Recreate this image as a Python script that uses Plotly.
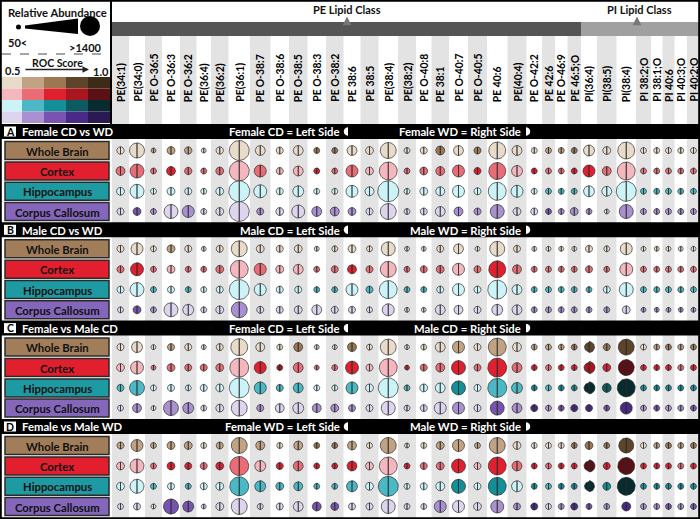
import numpy as np
import plotly.graph_objects as go

# ---------------- DATA ----------------
LIPIDS = ["PE(34:1)", "PE(34:0)", "PE O-36:5", "PE O-36:3", "PE O-36:2", "PE(36:4)", "PE(36:2)",
          "PE(36:1)", "PE O-38:7", "PE O-38:6", "PE O-38:5", "PE O-38:3", "PE O-38:2", "PE 38:6",
          "PE 38:5", "PE(38:4)", "PE(38:2)", "PE O-40:8", "PE 38:1", "PE O-40:7", "PE O-40:5",
          "PE 40:6", "PE(40:4)", "PE O-42:2", "PE 42:6", "PE O-46:9", "PE 46:5;O", "PI(36:4)",
          "PI(38:5)", "PI(38:4)", "PI 38:2;O", "PI 38:1;O", "PI 40:6", "PI 40:3;O", "PI 40:2;O"]
LIPID_CLASS = ["PE"] * 27 + ["PI"] * 8
REGIONS = ["Whole Brain", "Cortex", "Hippocampus", "Corpus Callosum"]
PANEL_LETTERS = ["A", "B", "C", "D"]
PANEL_TITLES = ["Female CD vs WD", "Male CD vs WD", "Female vs Male CD", "Female vs Male WD"]
LEFT_GROUPS = ["Female CD", "Male CD", "Female CD", "Female WD"]
RIGHT_GROUPS = ["Female WD", "Male WD", "Male CD", "Male WD"]

# relative abundance (one value per lipid)
A_WB = [77, 520, 50, 90, 77, 50, 77, 1100, 165, 70, 165, 55, 55, 165, 90, 615, 55, 70, 125, 165,
        70, 720, 165, 55, 55, 55, 55, 220, 90, 720, 55, 55, 55, 55, 55]
A_CX = [125, 430, 55, 125, 77, 55, 90, 1100, 280, 70, 165, 55, 55, 280, 90, 840, 55, 90, 125, 280,
        70, 720, 220, 55, 55, 55, 55, 280, 125, 840, 55, 55, 55, 55, 55]
A_HC = [90, 430, 55, 90, 70, 55, 90, 1250, 350, 70, 220, 55, 55, 280, 125, 1250, 55, 90, 125, 280,
        70, 840, 280, 55, 55, 55, 55, 220, 165, 1100, 55, 55, 55, 55, 55]
A_CC = [70, 90, 55, 430, 280, 55, 90, 1100, 70, 90, 350, 165, 125, 90, 70, 615, 55, 70, 165, 125,
        70, 430, 90, 70, 55, 55, 90, 55, 50, 430, 55, 55, 55, 55, 55]
B_WB = [70, 280, 55, 90, 70, 50, 70, 615, 90, 70, 90, 50, 55, 90, 55, 430, 50, 50, 70, 165,
        50, 520, 70, 50, 50, 50, 50, 70, 55, 280, 50, 50, 50, 50, 50]
B_CX = [70, 350, 55, 90, 55, 55, 90, 840, 280, 90, 165, 55, 70, 125, 70, 615, 55, 70, 90, 280,
        70, 720, 125, 55, 55, 55, 55, 70, 55, 350, 55, 55, 55, 55, 55]
B_HC = [70, 430, 55, 70, 55, 55, 70, 1100, 280, 70, 70, 55, 55, 280, 70, 840, 55, 55, 70, 280,
        70, 965, 165, 55, 55, 55, 55, 55, 70, 430, 55, 55, 55, 55, 55]
B_CC = [55, 90, 55, 430, 220, 55, 90, 615, 70, 70, 90, 165, 70, 70, 55, 280, 50, 50, 165, 125,
        70, 220, 165, 55, 55, 55, 55, 55, 55, 90, 50, 50, 50, 50, 50]
C_WB = [70, 220, 50, 70, 70, 50, 70, 720, 125, 55, 125, 50, 50, 125, 55, 615, 50, 55, 165, 280,
        70, 840, 125, 55, 55, 55, 55, 125, 70, 615, 55, 55, 55, 55, 55]
C_CX = [90, 350, 50, 90, 70, 70, 90, 965, 280, 55, 165, 50, 55, 350, 70, 840, 50, 70, 125, 430,
        70, 965, 165, 55, 55, 55, 55, 165, 90, 615, 55, 55, 55, 55, 55]
C_HC = [70, 520, 55, 70, 55, 70, 90, 1100, 280, 70, 165, 55, 55, 280, 90, 1100, 55, 90, 165, 430,
        70, 965, 220, 55, 55, 55, 55, 165, 125, 840, 55, 55, 55, 55, 55]
C_CC = [55, 125, 50, 520, 220, 55, 90, 615, 70, 125, 220, 125, 90, 70, 70, 430, 55, 70, 280, 280,
        70, 430, 165, 70, 55, 55, 70, 70, 55, 280, 55, 55, 55, 55, 55]
D_WB = [70, 280, 55, 90, 90, 55, 70, 615, 125, 55, 125, 55, 55, 125, 55, 615, 50, 55, 90, 280,
        55, 615, 90, 55, 55, 55, 55, 90, 55, 520, 55, 55, 55, 55, 55]
D_CX = [90, 430, 55, 90, 70, 70, 90, 965, 220, 70, 165, 55, 55, 165, 90, 840, 55, 70, 90, 430,
        70, 840, 165, 55, 55, 55, 55, 165, 70, 720, 55, 55, 55, 55, 55]
D_HC = [90, 430, 55, 70, 55, 70, 90, 965, 220, 90, 125, 55, 55, 220, 90, 1100, 55, 70, 125, 430,
        70, 840, 220, 55, 55, 55, 55, 125, 90, 840, 55, 55, 55, 55, 55]
D_CC = [55, 70, 50, 520, 220, 50, 90, 615, 55, 70, 165, 125, 90, 70, 70, 430, 55, 55, 280, 280,
        90, 350, 70, 70, 55, 55, 70, 55, 55, 125, 55, 55, 55, 55, 55]

# ROC score bin (0: 0.5 ... 4: 1.0)
A_WB_ROC = [0, 0, 1, 1, 1, 0, 0, 0, 0, 0, 0, 2, 2, 0, 0, 0, 0, 0, 2, 0, 2, 0, 0, 0, 1, 1, 2, 0, 0, 0, 0, 0, 0, 0, 0]
A_CX_ROC = [1, 1, 1, 2, 1, 1, 1, 0, 1, 0, 0, 2, 1, 1, 0, 0, 1, 1, 1, 1, 2, 1, 0, 2, 1, 1, 2, 2, 1, 0, 1, 1, 1, 1, 1]
A_HC_ROC = [0, 0, 0, 0, 0, 0, 0, 0, 0, 0, 0, 0, 0, 0, 0, 0, 0, 0, 0, 0, 0, 0, 0, 0, 1, 1, 1, 0, 0, 0, 1, 1, 1, 1, 1]
A_CC_ROC = [0, 2, 1, 0, 1, 0, 0, 0, 1, 0, 0, 1, 1, 1, 0, 0, 0, 0, 0, 1, 1, 1, 0, 0, 2, 1, 1, 1, 0, 1, 1, 1, 1, 1, 1]
B_WB_ROC = [0, 0, 0, 1, 0, 0, 0, 0, 0, 0, 0, 0, 0, 0, 0, 0, 0, 0, 0, 0, 0, 0, 0, 0, 0, 0, 0, 0, 0, 0, 0, 0, 0, 0, 0]
B_CX_ROC = [1, 2, 1, 0, 1, 1, 1, 0, 1, 0, 0, 1, 1, 2, 1, 0, 1, 1, 1, 0, 1, 2, 1, 1, 1, 1, 1, 1, 1, 0, 1, 1, 1, 1, 1]
B_HC_ROC = [0, 0, 1, 0, 1, 0, 0, 0, 0, 0, 0, 1, 1, 0, 1, 0, 1, 1, 0, 0, 0, 0, 0, 1, 1, 1, 1, 1, 0, 0, 1, 1, 1, 1, 1]
B_CC_ROC = [0, 2, 1, 0, 0, 0, 0, 1, 0, 0, 0, 0, 0, 0, 0, 0, 0, 0, 0, 0, 0, 0, 0, 1, 1, 1, 1, 1, 1, 0, 1, 1, 1, 1, 1]
C_WB_ROC = [0, 0, 0, 1, 0, 0, 0, 0, 0, 0, 2, 0, 0, 2, 0, 0, 0, 0, 0, 1, 0, 1, 0, 1, 1, 1, 2, 3, 2, 3, 0, 1, 2, 1, 2]
C_CX_ROC = [0, 0, 1, 1, 1, 1, 1, 0, 2, 3, 1, 1, 1, 2, 0, 0, 2, 1, 1, 2, 1, 2, 1, 2, 1, 2, 2, 3, 2, 4, 2, 2, 2, 1, 2]
C_HC_ROC = [1, 1, 0, 0, 0, 0, 0, 0, 1, 1, 1, 0, 0, 1, 0, 0, 1, 0, 0, 2, 0, 1, 1, 2, 1, 2, 2, 4, 3, 4, 2, 2, 2, 2, 2]
C_CC_ROC = [0, 1, 0, 1, 1, 0, 0, 0, 1, 0, 0, 1, 1, 1, 0, 0, 0, 0, 0, 1, 0, 2, 1, 3, 1, 2, 3, 3, 2, 3, 1, 2, 1, 1, 2]
D_WB_ROC = [1, 1, 1, 1, 1, 0, 1, 1, 1, 0, 1, 2, 2, 1, 0, 1, 0, 0, 1, 1, 1, 1, 0, 0, 0, 0, 2, 2, 2, 3, 0, 1, 2, 1, 2]
D_CX_ROC = [0, 0, 1, 2, 2, 1, 2, 1, 0, 2, 1, 2, 2, 2, 0, 0, 2, 1, 1, 2, 0, 2, 1, 2, 1, 2, 2, 4, 2, 4, 2, 2, 2, 1, 2]
D_HC_ROC = [0, 0, 1, 0, 1, 0, 0, 1, 1, 1, 1, 1, 1, 1, 0, 1, 0, 0, 0, 2, 0, 2, 0, 2, 1, 2, 2, 4, 2, 4, 2, 2, 2, 2, 2]
D_CC_ROC = [0, 0, 0, 2, 2, 0, 0, 0, 0, 0, 0, 2, 2, 0, 0, 0, 0, 0, 1, 0, 0, 1, 1, 3, 0, 1, 3, 2, 1, 3, 1, 1, 2, 1, 2]

# right-half abundance where it differs from the left half (panel, region, lipid index, value)
RIGHT_HALF_ABUNDANCE = [("C", 0, 27, 220), ("C", 1, 27, 280), ("C", 2, 27, 280),
                        ("D", 1, 27, 280), ("D", 2, 27, 220)]

SIZES = [[A_WB, A_CX, A_HC, A_CC], [B_WB, B_CX, B_HC, B_CC],
         [C_WB, C_CX, C_HC, C_CC], [D_WB, D_CX, D_HC, D_CC]]
ROCS = [[A_WB_ROC, A_CX_ROC, A_HC_ROC, A_CC_ROC], [B_WB_ROC, B_CX_ROC, B_HC_ROC, B_CC_ROC],
        [C_WB_ROC, C_CX_ROC, C_HC_ROC, C_CC_ROC], [D_WB_ROC, D_CX_ROC, D_HC_ROC, D_CC_ROC]]

# ---------------- STYLE / LAYOUT ----------------
PALETTE = {
    "Whole Brain": ["#e8dbc9", "#c1a283", "#9d7752", "#5e4429", "#3d2b19"],
    "Cortex": ["#f5b7be", "#ea6c77", "#e0202e", "#a9161f", "#5b1016"],
    "Hippocampus": ["#cbf3f8", "#4ab9c5", "#138f99", "#0b5b61", "#072b2e"],
    "Corpus Callosum": ["#ddd5ee", "#a990d0", "#7953b1", "#492b87", "#2b1953"],
}
BOX_FILL = {"Whole Brain": "#a17e59", "Cortex": "#e21f2e", "Hippocampus": "#1e9aa2", "Corpus Callosum": "#8466ba"}
COL_EDGES = [112, 129, 145, 162, 180, 196.5, 211, 228.5, 250, 270.5, 289, 307.5, 326, 343.5, 360.5,
             378.5, 398, 416, 431.5, 449, 468, 487, 507.5, 526.5, 542, 555, 567.5, 581, 597, 616.5,
             636, 651, 662.5, 674.5, 687, 700]
PANEL_TOP = [124, 222.3, 320.6, 419]
HEAD_H = 15
ROW_OFF = [26.5, 47, 67.3, 87.5]
W, H = 700, 519
FONT = "Lato"
STRIPE = "#e3e3e3"
OUTLINE = "#2b2b2b"


def radius(a):
    return 2.5 + 8.5 * np.sqrt(max(a - 50, 0) / 1350.0)


def half_poly(cx, cy, r, side, n=22):
    if side == "L":
        t = np.linspace(np.pi / 2, 3 * np.pi / 2, n)
    else:
        t = np.linspace(-np.pi / 2, np.pi / 2, n)
    xs = list(cx + r * np.cos(t)) + [cx + r * np.cos(t[0])]
    ys = list(cy - r * np.sin(t)) + [cy - r * np.sin(t[0])]
    return xs, ys


fig = go.Figure()
shapes = []
annotations = []

centers = [(COL_EDGES[j] + COL_EDGES[j + 1]) / 2 for j in range(len(LIPIDS))]
right_over = {(PANEL_LETTERS.index(p), i, j): v for p, i, j, v in RIGHT_HALF_ABUNDANCE}

# background stripes
for j in range(0, len(LIPIDS), 2):
    shapes.append(dict(type="rect", x0=COL_EDGES[j], x1=COL_EDGES[j + 1], y0=36, y1=H,
                       fillcolor=STRIPE, line=dict(width=0), layer="below"))

# header class bars
pe_end = COL_EDGES[LIPID_CLASS.index("PI")]
shapes.append(dict(type="rect", x0=112, x1=pe_end, y0=22, y1=36, fillcolor="#555555", line=dict(width=0), layer="below"))
shapes.append(dict(type="rect", x0=pe_end, x1=W, y0=22, y1=36, fillcolor="#a0a0a0", line=dict(width=0), layer="below"))
annotations.append(dict(x=347, y=9, text="<b>PE Lipid Class</b>", showarrow=False, font=dict(size=11, color="#111", family=FONT)))
annotations.append(dict(x=639, y=9, text="<b>PI Lipid Class</b>", showarrow=False, font=dict(size=11, color="#111", family=FONT)))
for ax_ in (347, 637):
    annotations.append(dict(x=ax_, y=16.5, ax=ax_, ay=23, axref="x", ayref="y", text="", showarrow=True,
                            arrowhead=2, arrowsize=0.8, arrowwidth=2.2, arrowcolor="#777777"))

# lipid labels
for j, name in enumerate(LIPIDS):
    annotations.append(dict(x=centers[j], y=104, text="<b>%s</b>" % name, textangle=-90, showarrow=False,
                            xanchor="center", yanchor="bottom", font=dict(size=10.4, color="#000", family=FONT)))

# legend box
annotations.append(dict(x=57, y=12, text="<b>Relative Abundance</b>", showarrow=False, font=dict(size=11.2, color="#111", family=FONT)))
shapes.append(dict(type="circle", x0=16, x1=21, y0=24.5, y1=29.5, fillcolor="black", line=dict(width=0)))
shapes.append(dict(type="path", path="M 25,25.5 L 78,18.5 L 78,34 L 25,28.5 Z", fillcolor="black", line=dict(width=0)))
shapes.append(dict(type="circle", x0=80, x1=100, y0=16, y1=36, fillcolor="black", line=dict(width=0)))
annotations.append(dict(x=6, y=42, text="<b>50<</b>", xanchor="left", showarrow=False, font=dict(size=11, color="#111", family=FONT)))
annotations.append(dict(x=104, y=47, text="<b>>1400</b>", xanchor="right", showarrow=False, font=dict(size=11, color="#111", family=FONT)))
shapes.append(dict(type="line", x0=2, x1=110, y0=54, y1=54, line=dict(color="#888888", width=1.5, dash="dash")))
annotations.append(dict(x=57, y=63, text="<b>ROC Score</b>", showarrow=False, font=dict(size=10.5, color="#111", family=FONT)))
annotations.append(dict(x=89, y=69.5, ax=24, ay=69.5, axref="x", ayref="y", text="", showarrow=True,
                        arrowhead=2, arrowsize=1, arrowwidth=1.3, arrowcolor="#222"))
annotations.append(dict(x=12, y=70, text="<b>0.5</b>", showarrow=False, font=dict(size=11, color="#111", family=FONT)))
annotations.append(dict(x=101, y=71, text="<b>1.0</b>", showarrow=False, font=dict(size=11, color="#111", family=FONT)))
grid_top = 77
for i, reg in enumerate(REGIONS):
    for k, col in enumerate(PALETTE[reg]):
        shapes.append(dict(type="rect", x0=k * 22, x1=(k + 1) * 22, y0=grid_top + i * 11.5, y1=grid_top + (i + 1) * 11.5,
                           fillcolor=col, line=dict(width=0)))
shapes.append(dict(type="line", x0=111, x1=111, y0=0, y1=124, line=dict(color="black", width=2)))

# panels
for p in range(4):
    top = PANEL_TOP[p]
    shapes.append(dict(type="rect", x0=0, x1=W, y0=top, y1=top + HEAD_H, fillcolor="black", line=dict(width=0)))
    shapes.append(dict(type="rect", x0=4, x1=16, y0=top + 2.5, y1=top + 12.5, fillcolor="white", line=dict(width=0)))
    annotations.append(dict(x=10, y=top + 7.8, text="<b>%s</b>" % PANEL_LETTERS[p], showarrow=False,
                            font=dict(size=10.5, color="black", family=FONT)))
    annotations.append(dict(x=20, y=top + 7.8, text="<b>%s</b>" % PANEL_TITLES[p], showarrow=False, xanchor="left",
                            font=dict(size=11.3, color="white", family=FONT)))
    annotations.append(dict(x=342, y=top + 7.8, text="<b>%s = Left Side</b>" % LEFT_GROUPS[p], showarrow=False,
                            xanchor="right", font=dict(size=11.3, color="white", family=FONT)))
    annotations.append(dict(x=523, y=top + 7.8, text="<b>%s = Right Side</b>" % RIGHT_GROUPS[p], showarrow=False,
                            xanchor="right", font=dict(size=11.3, color="white", family=FONT)))
    for gx, side in ((348, "L"), (526, "R")):
        xs, ys = half_poly(gx, top + 7.5, 4.2, side, n=12)
        path = "M " + " L ".join("%.2f,%.2f" % (a, b) for a, b in zip(xs, ys)) + " Z"
        shapes.append(dict(type="path", path=path, fillcolor="white", line=dict(width=0)))
    for i, reg in enumerate(REGIONS):
        cy = top + ROW_OFF[i]
        shapes.append(dict(type="rect", x0=5, x1=109, y0=cy - 9, y1=cy + 9, fillcolor=BOX_FILL[reg],
                           line=dict(color="#2a2a2a", width=1.5)))
        annotations.append(dict(x=57, y=cy + 0.5, text="<b>%s</b>" % reg, showarrow=False,
                                font=dict(size=11.3, color="#111", family=FONT)))

# circles, grouped by fill colour
groups = {}
for p in range(4):
    for i, reg in enumerate(REGIONS):
        cy = PANEL_TOP[p] + ROW_OFF[i]
        for j in range(len(LIPIDS)):
            col = PALETTE[reg][ROCS[p][i][j]]
            for side in ("L", "R"):
                a = SIZES[p][i][j]
                if side == "R":
                    a = right_over.get((p, i, j), a)
                xs, ys = half_poly(centers[j], cy, radius(a), side)
                gx, gy = groups.setdefault(col, ([], []))
                gx.extend(xs + [None])
                gy.extend(ys + [None])
for col, (gx, gy) in groups.items():
    fig.add_trace(go.Scatter(x=gx, y=gy, mode="lines", fill="toself", fillcolor=col,
                             line=dict(color=OUTLINE, width=0.7), hoverinfo="skip", showlegend=False))

# outer frame
shapes.append(dict(type="rect", x0=0.8, x1=W - 0.8, y0=0.8, y1=H - 0.8, line=dict(color="black", width=2), fillcolor="rgba(0,0,0,0)"))

fig.update_layout(
    width=W, height=H, margin=dict(l=0, r=0, t=0, b=0), paper_bgcolor="white", plot_bgcolor="white",
    xaxis=dict(range=[0, W], visible=False, fixedrange=True),
    yaxis=dict(range=[H, 0], visible=False, fixedrange=True),
    shapes=shapes, annotations=annotations, showlegend=False,
)
fig.write_html("out.html", config={"displayModeBar": False},
               post_script="document.body.style.margin='0px';document.body.style.overflow='hidden';")
